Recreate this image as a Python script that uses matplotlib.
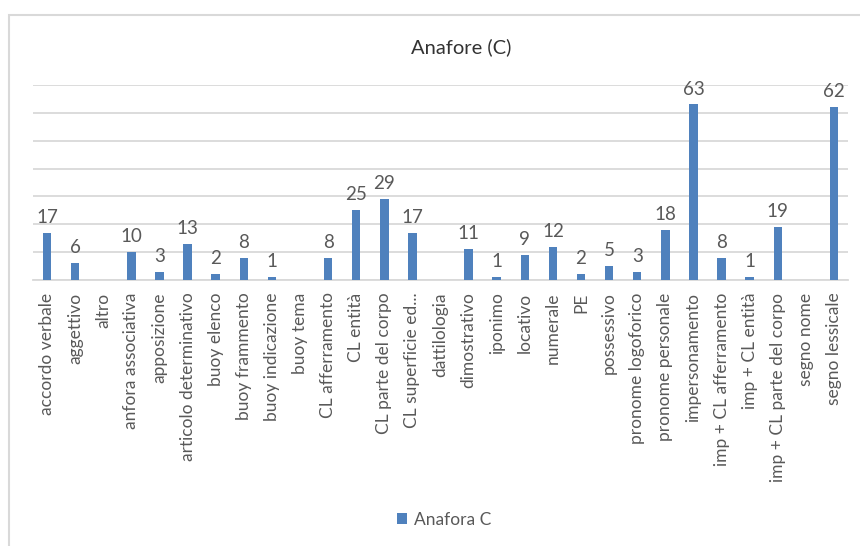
import matplotlib.pyplot as plt
from matplotlib.patches import Rectangle

categorie = [
    "accordo verbale", "aggettivo", "altro", "anfora associativa", "apposizione",
    "articolo determinativo", "buoy elenco", "buoy frammento", "buoy indicazione",
    "buoy tema", "CL afferramento", "CL entità", "CL parte del corpo",
    "CL superficie ed...", "dattilologia", "dimostrativo", "iponimo", "locativo",
    "numerale", "PE", "possessivo", "pronome logoforico", "pronome personale",
    "impersonamento", "imp + CL afferramento", "imp + CL entità",
    "imp + CL parte del corpo", "segno nome", "segno lessicale",
]
anafora_c = [17, 6, 0, 10, 3, 13, 2, 8, 1, 0, 8, 25, 29, 17, 0, 11, 1, 9, 12, 2,
             5, 3, 18, 63, 8, 1, 19, 0, 62]

blu = "#4F81BD"
grigio_testo = "#595959"
grigio_linee = "#D9D9D9"

plt.rcParams["font.family"] = ["Lato", "DejaVu Sans"]

fig = plt.figure(figsize=(8.6, 5.46), dpi=100)
ax = fig.add_axes([33 / 860, 1 - 280 / 546, (848 - 33) / 860, (280 - 85) / 546])

x = range(len(categorie))
bars = ax.bar(x, anafora_c, width=0.3, color=blu, label="Anafora C", zorder=3)

for xi, v in zip(x, anafora_c):
    if v:
        ax.annotate(str(v), (xi, v), xytext=(0, 5), textcoords="offset points",
                    ha="center", va="bottom", fontsize=13.5, color=grigio_testo)

ax.set_xlim(-0.5, len(categorie) - 0.5)
ax.set_ylim(0, 70)
ax.set_yticks(range(0, 71, 10))
ax.yaxis.grid(True, color=grigio_linee, linewidth=1.3, zorder=0)
ax.tick_params(axis="y", left=False, labelleft=False)
ax.tick_params(axis="x", length=0, pad=9)
ax.set_xticks(list(x))
ax.set_xticklabels(categorie, rotation=90, fontsize=12.5, color=grigio_testo)
for side in ["left", "right", "top"]:
    ax.spines[side].set_visible(False)
ax.spines["bottom"].set_color(grigio_linee)
ax.spines["bottom"].set_linewidth(1.3)

fig.text(461 / 860, 1 - 47 / 546, "Anafore (C)", ha="center", va="center",
         fontsize=14.5, color="#333333")

fig.legend(handles=[bars], labels=["Anafora C"], loc="center",
           bbox_to_anchor=(444 / 860, 1 - 520 / 546), frameon=False,
           fontsize=12.5, labelcolor=grigio_testo, handlelength=0.6,
           handleheight=0.6, handletextpad=0.4)

# cornice dell'area grafico
fig.patches.append(Rectangle((8.5 / 860, -0.05), 1.1, 1 - 14.5 / 546 + 0.05,
                             transform=fig.transFigure, fill=False,
                             edgecolor=grigio_linee, linewidth=1.5))

fig.savefig("out.png", dpi=100)
